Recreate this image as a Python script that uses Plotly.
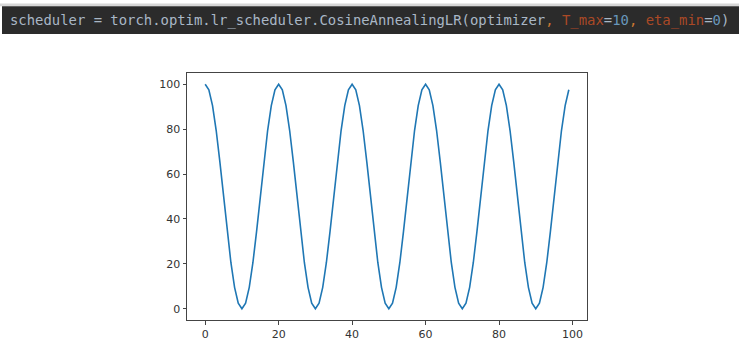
import plotly.graph_objects as go

epochs = list(range(100))
lr = [
    100.0, 97.55, 90.45, 79.39, 65.45, 50.0, 34.55, 20.61, 9.55, 2.45,
    0.0, 2.45, 9.55, 20.61, 34.55, 50.0, 65.45, 79.39, 90.45, 97.55,
    100.0, 97.55, 90.45, 79.39, 65.45, 50.0, 34.55, 20.61, 9.55, 2.45,
    0.0, 2.45, 9.55, 20.61, 34.55, 50.0, 65.45, 79.39, 90.45, 97.55,
    100.0, 97.55, 90.45, 79.39, 65.45, 50.0, 34.55, 20.61, 9.55, 2.45,
    0.0, 2.45, 9.55, 20.61, 34.55, 50.0, 65.45, 79.39, 90.45, 97.55,
    100.0, 97.55, 90.45, 79.39, 65.45, 50.0, 34.55, 20.61, 9.55, 2.45,
    0.0, 2.45, 9.55, 20.61, 34.55, 50.0, 65.45, 79.39, 90.45, 97.55,
    100.0, 97.55, 90.45, 79.39, 65.45, 50.0, 34.55, 20.61, 9.55, 2.45,
    0.0, 2.45, 9.55, 20.61, 34.55, 50.0, 65.45, 79.39, 90.45, 97.55,
]
x_ticks = [0, 20, 40, 60, 80, 100]
y_ticks = [0, 20, 40, 60, 80, 100]

W, H = 739, 353
L, R, T, B = 187, 587, 73, 332
pw, ph = R - L, B - T

def px(x):
    return (x - L) / pw

def py(y):
    return (B - y) / ph

fig = go.Figure()
fig.add_trace(go.Scatter(x=epochs, y=lr, mode="lines",
                         line=dict(color="#1f77b4", width=1.6),
                         hoverinfo="x+y"))

axis_common = dict(showline=True, mirror=True, linecolor="#444", linewidth=1,
                   ticks="outside", ticklen=3.5, tickwidth=1, tickcolor="#444",
                   showgrid=False, zeroline=False,
                   tickfont=dict(family="DejaVu Sans", size=11, color="#333"))

fig.update_xaxes(range=[-4.95, 103.95], tickvals=x_ticks, **axis_common)
fig.update_yaxes(range=[-5, 105], tickvals=y_ticks, **axis_common)

# code banner
fig.add_shape(type="rect", xref="paper", yref="paper",
              x0=px(0), x1=px(739), y0=py(3), y1=py(0),
              fillcolor="#d6d6d6", line=dict(width=0), layer="above")
fig.add_shape(type="rect", xref="paper", yref="paper",
              x0=px(2), x1=px(739), y0=py(32), y1=py(3),
              fillcolor="#2b2b2b", line=dict(width=0), layer="above")

fg = "#a9b7c6"
comma = "#cc7832"
kw = "#aa4926"
num = "#6897bb"
code = (f'<span style="color:{fg}">scheduler = torch.optim.lr_scheduler.CosineAnnealingLR(optimizer</span>'
        f'<span style="color:{comma}">, </span>'
        f'<span style="color:{kw}">T_max</span>'
        f'<span style="color:{fg}">=</span>'
        f'<span style="color:{num}">10</span>'
        f'<span style="color:{comma}">, </span>'
        f'<span style="color:{kw}">eta_min</span>'
        f'<span style="color:{fg}">=</span>'
        f'<span style="color:{num}">0</span>'
        f'<span style="color:{fg}">)</span>')
fig.add_annotation(text=code, xref="paper", yref="paper",
                   x=px(8), y=py(17.5), xanchor="left", yanchor="middle",
                   showarrow=False,
                   font=dict(family="DejaVu Sans Mono", size=13.9, color=fg))

fig.update_layout(width=W, height=H,
                  margin=dict(l=L, r=W - R, t=T, b=H - B, pad=0),
                  plot_bgcolor="white", paper_bgcolor="white",
                  showlegend=False)

fig.write_html("out.html")
